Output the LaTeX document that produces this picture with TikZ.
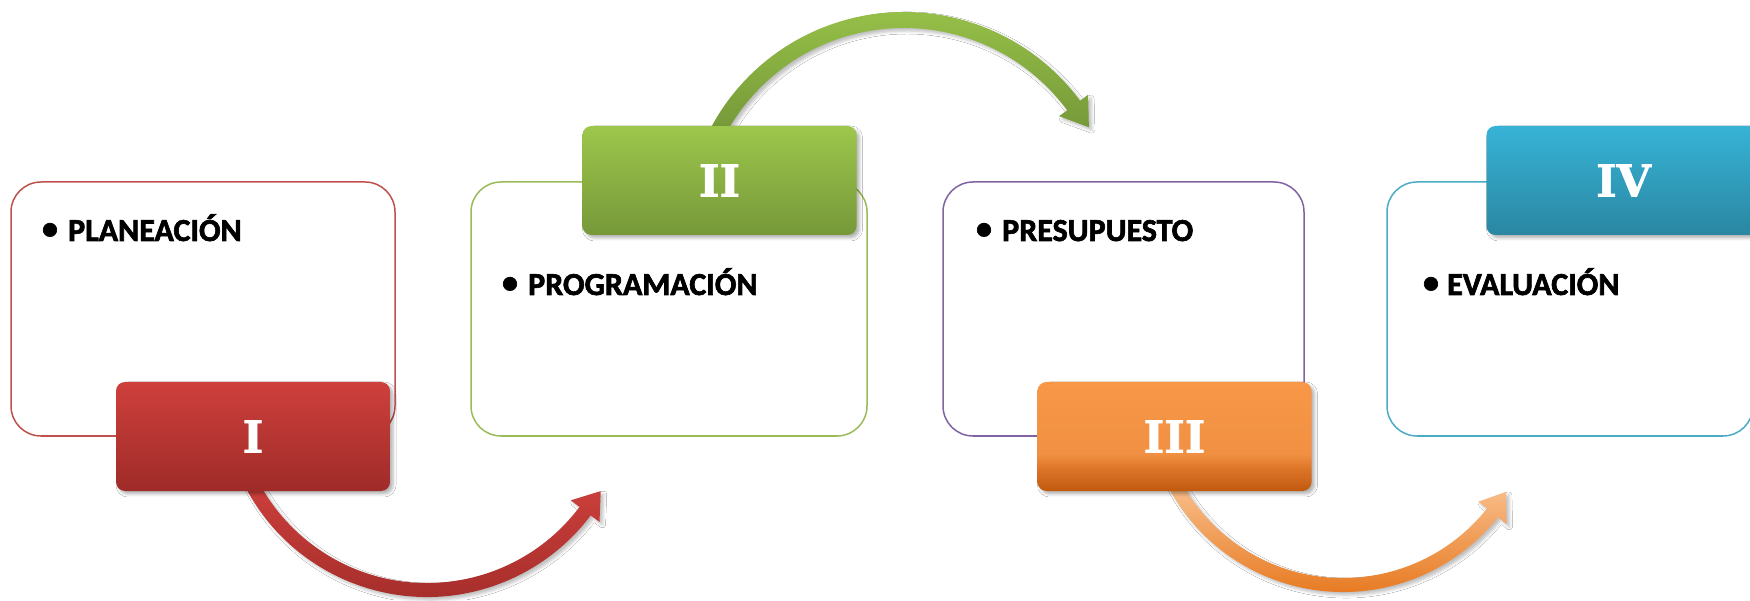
\documentclass[tikz,border=0pt]{standalone}
\usepackage{fontspec}
\setmainfont{Carlito}
\newfontfamily\itemfont{Carlito}[UprightFont=* Bold, FakeBold=2]
\newfontfamily\numfont{DejaVu Serif}[UprightFont=* Bold, FakeBold=1.5]
\usetikzlibrary{shadows.blur}
\definecolor{lnRed}{HTML}{C0504D}
\definecolor{lnGreen}{HTML}{9BBB59}
\definecolor{lnPurple}{HTML}{8064A2}
\definecolor{lnBlue}{HTML}{4BACC6}
\definecolor{hRedT}{HTML}{CE403C}
\definecolor{hRedB}{HTML}{9F2B28}
\definecolor{hGreenT}{HTML}{9DC74C}
\definecolor{hGreenB}{HTML}{769839}
\definecolor{hBlueT}{HTML}{37B3D6}
\definecolor{hBlueB}{HTML}{2A87A2}
\definecolor{hOrT}{HTML}{F79747}
\definecolor{hOrT2}{HTML}{F19042}
\definecolor{hOrM}{HTML}{DC7428}
\definecolor{hOrB}{HTML}{C0590E}
\definecolor{aRedT}{HTML}{CF413D}
\definecolor{aRedB}{HTML}{9E2A27}
\definecolor{aGreenT}{HTML}{9DC94C}
\definecolor{aGreenB}{HTML}{749738}
\definecolor{aOrT}{HTML}{FBC799}
\definecolor{aOrB}{HTML}{E36A08}
\pgfdeclareverticalshading{orangehdr}{100bp}{color(0bp)=(hOrB); color(25bp)=(hOrB); color(35bp)=(hOrM); color(42bp)=(hOrT2); color(75bp)=(hOrT); color(100bp)=(hOrT)}
\begin{document}
\begin{tikzpicture}[x=1pt,y=1pt,
  outerbox/.style={rectangle, rounded corners=30pt, line width=1.5pt, fill=white, inner sep=0pt, minimum height=254pt},
  hdrbox/.style={rectangle, rounded corners=9pt, inner sep=0pt, minimum width=274pt, minimum height=109pt,
     font=\numfont\fontsize{44}{50}\selectfont, text=white,
     blur shadow={shadow xshift=3pt, shadow yshift=-3pt, shadow blur radius=3pt, shadow opacity=30}},
  arrowshape/.style={blur shadow={shadow xshift=3pt, shadow yshift=-3pt, shadow blur radius=3pt, shadow opacity=25}},
  itemtext/.style={anchor=base west, inner sep=0pt, font=\itemfont\fontsize{32}{38}\selectfont},
  bulletmark/.style={anchor=center, inner sep=0pt, font=\itemfont\fontsize{32}{38}\selectfont}]
\useasboundingbox (0,0) rectangle (1750,600);
\clip (0,0) rectangle (1750,600);
\fill[white] (0,0) rectangle (1750,600);

% outline boxes
\node[outerbox, draw=lnRed, minimum width=384pt] (b1) at (203,291) {};
\node[outerbox, draw=lnGreen, minimum width=396pt] (b2) at (669,291) {};
\node[outerbox, draw=lnPurple, minimum width=361pt] (b3) at (1123.5,291) {};
\node[outerbox, draw=lnBlue, minimum width=366pt] (b4) at (1570,291) {};

% curved arrows
\begin{scope}[shift={(427,208)}]
\shade[arrowshape, top color=aRedT, bottom color=aRedB]
  (205:205) arc[start angle=205, end angle=323, radius=205]
  -- (323:216) -- (330.3:200) -- (323:180) -- (323:191)
  arc[start angle=323, end angle=205, radius=191] -- cycle;
\end{scope}
\begin{scope}[shift={(904,369)}]
\shade[arrowshape, top color=aGreenT, bottom color=aGreenB]
  (152:219) arc[start angle=152, end angle=36.5, radius=219]
  -- (36.5:229) -- (29.3:212) -- (36.5:193) -- (36.5:203)
  arc[start angle=36.5, end angle=152, radius=203] -- cycle;
\end{scope}
\begin{scope}[shift={(1343,206)}]
\shade[arrowshape, top color=aOrT, bottom color=aOrB]
  (205:198) arc[start angle=205, end angle=321.5, radius=198]
  -- (321.5:209) -- (329:190) -- (321.5:173) -- (321.5:184)
  arc[start angle=321.5, end angle=205, radius=184] -- cycle;
\end{scope}

% header boxes
\node[hdrbox, top color=hRedT, bottom color=hRedB] (h1) at (253,163.5) {I};
\node[hdrbox, top color=hGreenT, bottom color=hGreenB] (h2) at (719.5,419.5) {II};
\node[hdrbox, shading=orangehdr] (h3) at (1174.5,163.5) {III};
\node[hdrbox, top color=hBlueT, bottom color=hBlueB] (h4) at (1623.5,419.5) {IV};

% items
\node[bulletmark] (d1) at (50,369) {•};
\node[itemtext] (t1) at (68,359) {PLANEACIÓN};
\node[bulletmark] (d2) at (510,315) {•};
\node[itemtext] (t2) at (528,305) {PROGRAMACIÓN};
\node[bulletmark] (d3) at (984,369) {•};
\node[itemtext] (t3) at (1002,359) {PRESUPUESTO};
\node[bulletmark] (d4) at (1431,315) {•};
\node[itemtext] (t4) at (1447,305) {EVALUACIÓN};
\end{tikzpicture}
\end{document}
